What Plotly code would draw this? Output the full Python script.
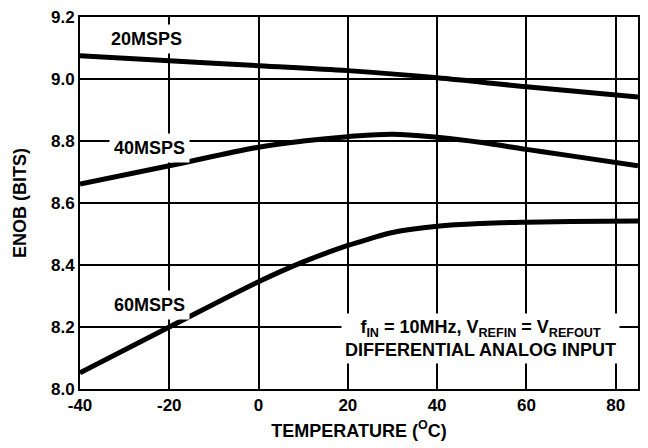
import plotly.graph_objects as go

temp_20 = [-40, -20, 0, 20, 40, 60, 85]
enob_20 = [9.075, 9.059, 9.043, 9.027, 9.004, 8.975, 8.942]

temp_40 = [-40, -20, 0, 10, 20, 30, 40, 50, 60, 70, 85]
enob_40 = [8.661, 8.72, 8.78, 8.80, 8.814, 8.822, 8.812, 8.795, 8.773, 8.752, 8.72]

temp_60 = [-40, -20, 0, 10, 20, 25, 30, 40, 50, 60, 70, 85]
enob_60 = [8.052, 8.2, 8.346, 8.41, 8.463, 8.485, 8.505, 8.525, 8.534, 8.538, 8.54, 8.542]

x_tickvals = [-40, -20, 0, 20, 40, 60, 80]
x_ticktext = ["-40", "-20", "0", "20", "40", "60", "80"]
y_tickvals = [8.0, 8.2, 8.4, 8.6, 8.8, 9.0, 9.2]
y_ticktext = ["8.0", "8.2", "8.4", "8.6", "8.8", "9.0", "9.2"]

series = [("20MSPS", temp_20, enob_20), ("40MSPS", temp_40, enob_40), ("60MSPS", temp_60, enob_60)]

FONT = "Liberation Sans, Arial, sans-serif"

fig = go.Figure()
for name, xs, ys in series:
    fig.add_trace(go.Scatter(x=xs, y=ys, mode="lines", name=name,
                             line=dict(color="black", width=5, shape="spline", smoothing=1.0),
                             showlegend=False))

labels = [("20MSPS", -25, 9.128), ("40MSPS", -24.5, 8.776), ("60MSPS", -24.5, 8.271)]
for txt, x, y in labels:
    fig.add_annotation(x=x, y=y, text="<b>" + txt + "</b>", showarrow=False,
                       font=dict(family=FONT, size=18, color="black"),
                       bgcolor="white", borderpad=4)

fig.add_annotation(x=49.8, y=8.163,
                   text="<b>f<sub>IN</sub> = 10MHz, V<sub>REFIN</sub> = V<sub>REFOUT</sub><br>DIFFERENTIAL ANALOG INPUT</b>",
                   showarrow=False, align="center",
                   font=dict(family=FONT, size=18, color="black"),
                   bgcolor="white", borderpad=3)

fig.update_xaxes(range=[-40, 85], tickvals=x_tickvals, ticktext=x_ticktext,
                 showgrid=True, gridcolor="black", gridwidth=1.5,
                 showline=True, linecolor="black", linewidth=2, mirror=True,
                 zeroline=False, ticks="", automargin=False, ticklabeloverflow="allow",
                 tickfont=dict(family=FONT, size=17, color="black", weight="bold"),
                 title=dict(text="<b>TEMPERATURE (<sup>O</sup>C)</b>",
                            font=dict(family=FONT, size=18, color="black"), standoff=10))
fig.update_yaxes(range=[8.0, 9.2], tickvals=y_tickvals, ticktext=y_ticktext,
                 showgrid=True, gridcolor="black", gridwidth=1.5,
                 showline=True, linecolor="black", linewidth=2, mirror=True,
                 zeroline=False, ticks="", automargin=False, ticklabeloverflow="allow",
                 tickfont=dict(family=FONT, size=17, color="black", weight="bold"),
                 title=dict(text="<b>ENOB (BITS)</b>",
                            font=dict(family=FONT, size=18, color="black"), standoff=20))

fig.update_layout(width=640, height=440,
                  margin=dict(l=72, r=10, t=9, b=59),
                  plot_bgcolor="white", paper_bgcolor="white",
                  font=dict(family=FONT, color="black"))

fig.write_html("out.html")
